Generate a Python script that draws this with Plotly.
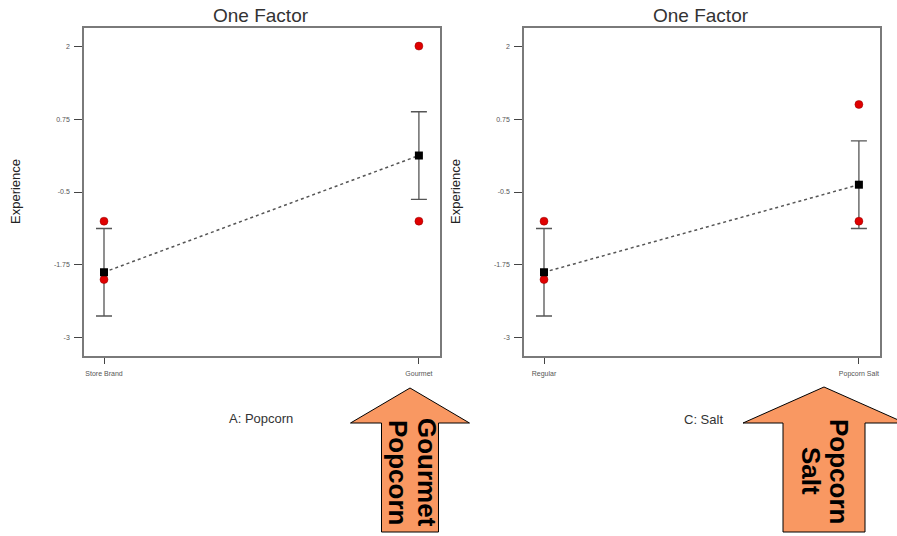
import plotly.graph_objects as go

# ---- data -------------------------------------------------------------
y_ticks = [-3, -1.75, -0.5, 0.75, 2]
y_tick_text = ["-3", "-1.75", "-0.5", "0.75", "2"]

popcorn_levels = ["Store Brand", "Gourmet"]
popcorn_mean = [-1.875, 0.125]
popcorn_ci = [0.75, 0.75]
popcorn_obs_level = [0, 0, 1, 1]
popcorn_obs = [-1.0, -2.0, 2.0, -1.0]

salt_levels = ["Regular", "Popcorn Salt"]
salt_mean = [-1.875, -0.375]
salt_ci = [0.75, 0.75]
salt_obs_level = [0, 0, 1, 1]
salt_obs = [-1.0, -2.0, 1.0, -1.0]

W, H = 897, 536
FONT = "Liberation Sans, Arial, sans-serif"


def px(x):
    return x / W


def py(y):
    return 1 - y / H


fig = go.Figure()


def add_panel(fig, n, levels, mean, ci, obs_level, obs):
    xa = "x" if n == 1 else f"x{n}"
    ya = "y" if n == 1 else f"y{n}"
    lv = list(range(len(levels)))
    # dotted line joining the predicted means, with error bars
    fig.add_trace(go.Scatter(
        x=lv, y=mean, mode="lines", xaxis=xa, yaxis=ya,
        line=dict(color="#555555", width=1.5, dash="dot"),
        error_y=dict(type="data", array=ci, visible=True,
                     color="#555555", thickness=1.3, width=8),
        showlegend=False, hoverinfo="skip"))
    # observed design points
    fig.add_trace(go.Scatter(
        x=obs_level, y=obs, mode="markers", xaxis=xa, yaxis=ya,
        marker=dict(symbol="circle", size=8, color="#e00000",
                    line=dict(color="#900000", width=0.5)),
        showlegend=False))
    # predicted means
    fig.add_trace(go.Scatter(
        x=lv, y=mean, mode="markers", xaxis=xa, yaxis=ya,
        marker=dict(symbol="square", size=8, color="black"),
        showlegend=False))


add_panel(fig, 1, popcorn_levels, popcorn_mean, popcorn_ci,
          popcorn_obs_level, popcorn_obs)
add_panel(fig, 2, salt_levels, salt_mean, salt_ci,
          salt_obs_level, salt_obs)

axis_common = dict(
    showline=True, mirror=True, linecolor="#7a7a7a", linewidth=1.5,
    showgrid=False, zeroline=False, ticks="outside", tickcolor="#444444",
    tickwidth=1, tickfont=dict(family=FONT, size=7, color="#555555"),
)

xrange = [-0.0635, 1.067]
yrange = [-3.31, 2.31]
ydom = [py(356), py(28)]

fig.update_layout(
    width=W, height=H,
    margin=dict(l=0, r=0, t=0, b=0),
    paper_bgcolor="white", plot_bgcolor="white",
    font=dict(family=FONT),
    xaxis=dict(domain=[px(84), px(440)], range=xrange, anchor="y",
               tickvals=[0, 1], ticktext=popcorn_levels, ticklen=6,
               ticklabelstandoff=4, **axis_common),
    yaxis=dict(domain=ydom, range=yrange, anchor="x",
               tickvals=y_ticks, ticktext=y_tick_text, ticklen=8,
               ticklabelstandoff=3, **axis_common),
    xaxis2=dict(domain=[px(524), px(880)], range=xrange, anchor="y2",
                tickvals=[0, 1], ticktext=salt_levels, ticklen=6,
                ticklabelstandoff=4, **axis_common),
    yaxis2=dict(domain=ydom, range=yrange, anchor="x2",
                tickvals=y_ticks, ticktext=y_tick_text, ticklen=8,
                ticklabelstandoff=3, **axis_common),
)

annotations = []


def label(text, x, y, size, color="#333333", angle=0, bold=False):
    annotations.append(dict(
        text=f"<b>{text}</b>" if bold else text,
        x=px(x), y=py(y), xref="paper", yref="paper",
        xanchor="center", yanchor="middle", showarrow=False,
        textangle=angle, font=dict(family=FONT, size=size, color=color)))


# panel titles and axis titles
label("One Factor", 261, 16, 19)
label("One Factor", 701, 16, 19)
label("Experience", 16, 192, 13, color="#222222", angle=-90)
label("Experience", 456, 192, 13, color="#222222", angle=-90)
label("A: Popcorn", 261, 418, 13, color="#333333")
label("C: Salt", 703, 419, 13, color="#333333")

# callout arrows pointing up at the winning levels
ORANGE = "#f99862"


def up_arrow(tip_x, tip_y, head_half, head_y, shaft_half, bottom_y):
    pts = [
        (tip_x, tip_y),
        (tip_x + head_half, head_y),
        (tip_x + shaft_half, head_y),
        (tip_x + shaft_half, bottom_y),
        (tip_x - shaft_half, bottom_y),
        (tip_x - shaft_half, head_y),
        (tip_x - head_half, head_y),
    ]
    path = "M " + " L ".join(f"{px(x):.5f},{py(y):.5f}" for x, y in pts) + " Z"
    return dict(type="path", path=path, xref="paper", yref="paper",
                fillcolor=ORANGE, line=dict(color="black", width=1),
                layer="above")


shapes = [
    up_arrow(410, 388, 59.5, 423, 28.5, 532),
    up_arrow(824, 387, 81, 423, 41, 532),
]

label("Gourmet", 427, 472, 26, color="black", angle=90, bold=True)
label("Popcorn", 398, 472, 26, color="black", angle=90, bold=True)
label("Popcorn", 839, 471, 26, color="black", angle=90, bold=True)
label("Salt", 811, 471, 26, color="black", angle=90, bold=True)

fig.update_layout(annotations=annotations, shapes=shapes)

fig.write_html("out.html")
